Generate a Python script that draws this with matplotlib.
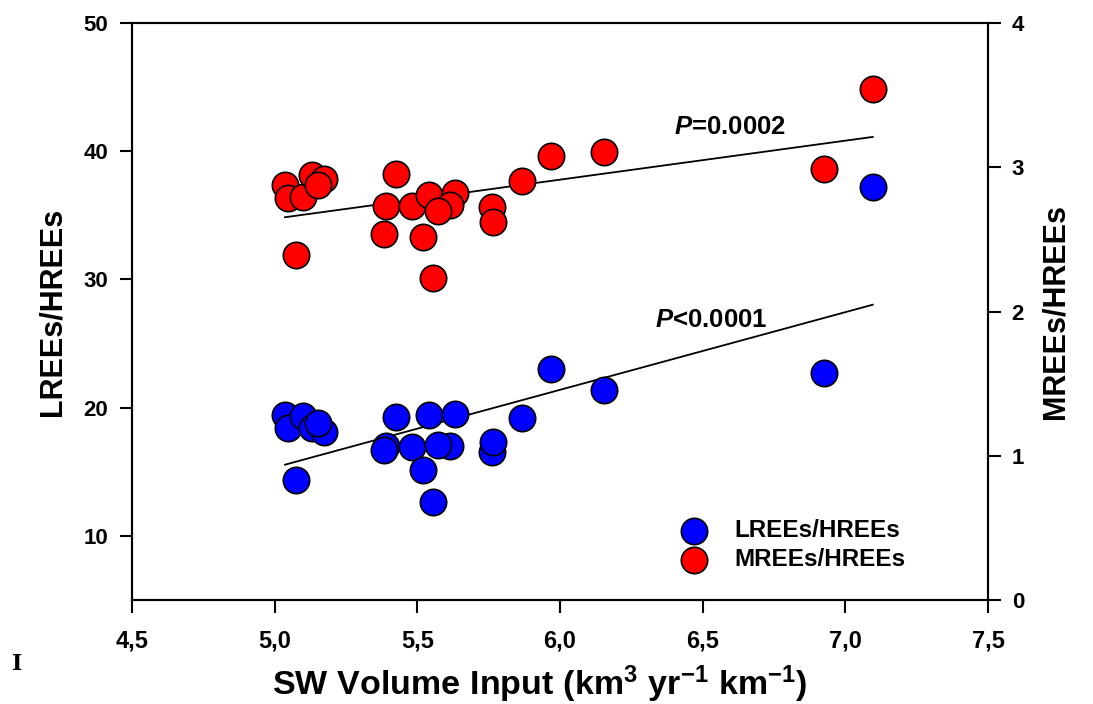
import numpy as np
import matplotlib
matplotlib.use("Agg")
import matplotlib.pyplot as plt
from matplotlib.ticker import FuncFormatter

matplotlib.rcParams.update({
    'font.family': ['Liberation Sans', 'DejaVu Sans'],
    'font.weight': 'bold',
    'mathtext.fontset': 'custom',
    'mathtext.rm': 'Liberation Sans:bold',
    'mathtext.bf': 'Liberation Sans:bold',
    'mathtext.it': 'Liberation Sans:italic:bold',
})

# SW volume input (shared x for both ratios)
sw_input = [5.036, 5.046, 5.100, 5.130, 5.173, 5.150, 5.075, 5.424, 5.390, 5.384,
            5.480, 5.541, 5.632, 5.615, 5.574, 5.518, 5.556, 5.761, 5.765, 5.868,
            5.968, 6.155, 6.925, 7.096]
# LREEs/HREEs (left axis)
lree_hree = [19.45, 18.41, 19.37, 18.41, 18.14, 18.80, 14.33, 19.27, 17.03, 16.72,
             16.90, 19.45, 19.50, 17.03, 17.11, 15.16, 12.61, 16.51, 17.29, 19.19,
             23.03, 21.40, 22.74, 37.22]
# MREEs/HREEs (right axis)
mree_hree = [2.877, 2.785, 2.796, 2.948, 2.919, 2.877, 2.392, 2.955, 2.733, 2.537,
             2.733, 2.808, 2.824, 2.738, 2.699, 2.514, 2.234, 2.727, 2.620, 2.903,
             3.076, 3.108, 2.990, 3.542]

x = np.array(sw_input)
yl = np.array(lree_hree)
yr = np.array(mree_hree)

fig = plt.figure(figsize=(10.93, 7.04), dpi=100)
ax = fig.add_axes([0.1208, 0.1477, 0.9040 - 0.1208, 0.9673 - 0.1477])
ax2 = ax.twinx()

# regression lines
xx = np.array([x.min(), x.max()])
b1 = np.polyfit(x, yl, 1)
b2 = np.polyfit(x, yr, 1)
ax.plot(xx, np.polyval(b1, xx), color='black', lw=1.3, zorder=2)
ax2.plot(xx, np.polyval(b2, xx), color='black', lw=1.3, zorder=2)

ax.scatter(x, yl, s=360, c='#0000ff', edgecolors='black', linewidths=1.2, zorder=3,
           label='LREEs/HREEs')
ax2.scatter(x, yr, s=360, c='#ff0000', edgecolors='black', linewidths=1.2, zorder=3,
            label='MREEs/HREEs')

ax.set_xlim(4.5, 7.5)
ax.set_ylim(5, 50)
ax2.set_ylim(0, 4)
ax.set_xticks(np.arange(4.5, 7.51, 0.5))
ax.set_yticks([10, 20, 30, 40, 50])
ax2.set_yticks([0, 1, 2, 3, 4])
ax.xaxis.set_major_formatter(FuncFormatter(lambda v, p: ('%.1f' % v).replace('.', ',')))

for a in (ax, ax2):
    for s in a.spines.values():
        s.set_linewidth(1.5)
    a.tick_params(direction='out', length=9, width=1.5, labelsize=16, pad=8)
ax.tick_params(axis='x', labelsize=17, pad=12)

ax.set_ylabel('LREEs/HREEs', fontsize=22, fontweight='bold', labelpad=12)
ax2.set_ylabel('MREEs/HREEs', fontsize=22, fontweight='bold', labelpad=12)
fig.text(0.494, (704 - 695) / 704,
         r'$\mathbf{SW\ Volume\ Input\ (km^{3}\ yr^{-1}\ km^{-1})}$',
         fontsize=24.5, ha='center', va='baseline')

ax.text(6.40, 41.35, r'$\mathit{P}$=0.0002', fontsize=18.5, fontweight='bold')
ax.text(6.333, 26.33, r'$\mathit{P}$<0.0001', fontsize=18.5, fontweight='bold')

h1, l1 = ax.get_legend_handles_labels()
h2, l2 = ax2.get_legend_handles_labels()
ax2.legend(h1 + h2, l1 + l2, loc='center left', bbox_to_anchor=(0.603, 0.095),
           frameon=False, fontsize=17.5, markerscale=1.0, handlelength=2.0,
           handletextpad=0.65, labelspacing=0.25, borderpad=0.4)

fig.text(0.011, (704 - 670) / 704, 'I', family='DejaVu Serif', fontsize=16, fontweight='bold')

fig.savefig('out.png', dpi=100)
